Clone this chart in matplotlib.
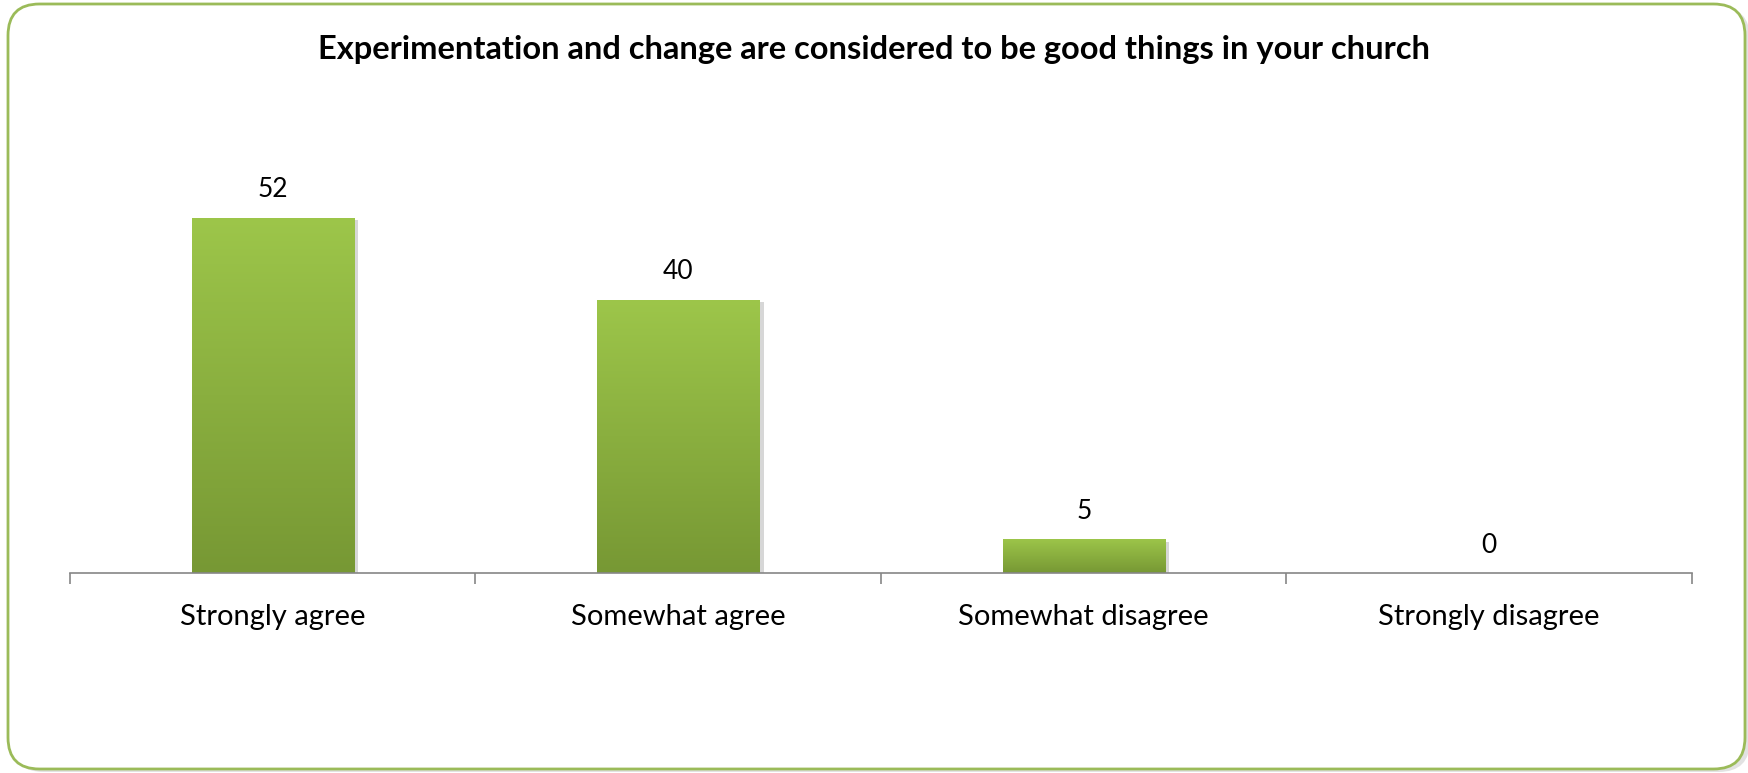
import numpy as np
import matplotlib
matplotlib.use("Agg")
from matplotlib import pyplot as plt
from matplotlib.patches import FancyBboxPatch
import matplotlib.patheffects as pe

categories = ["Strongly agree", "Somewhat agree", "Somewhat disagree", "Strongly disagree"]
values = [52, 40, 5, 0]
title = "Experimentation and change are considered to be good things in your church"

plt.rcParams['font.family'] = ['Lato', 'DejaVu Sans']

fig = plt.figure(figsize=(17.49, 7.73), dpi=100)
W, H = 1749, 773

# rounded green frame with a light shadow
shadow = FancyBboxPatch((12 / W, 1 / H), 1738 / W, 765 / H,
                        boxstyle="round,pad=0,rounding_size=0.018",
                        transform=fig.transFigure, facecolor='#d0d0d0', edgecolor='none',
                        mutation_aspect=W / H, alpha=0.6, zorder=-3)
fig.patches.append(shadow)
frame = FancyBboxPatch((8 / W, 4 / H), 1737 / W, 765 / H,
                       boxstyle="round,pad=0,rounding_size=0.018",
                       transform=fig.transFigure, facecolor='white', edgecolor='#9bbb59',
                       linewidth=2, mutation_aspect=W / H, zorder=-2)
fig.patches.append(frame)

ax = fig.add_axes([70 / W, 200 / H, (1692 - 70) / W, 410 / H])
ax.patch.set_alpha(0)
ax.set_zorder(2)

x = np.arange(len(categories))
bars = ax.bar(x, values, width=0.4, color='#8aae40', zorder=2,
              path_effects=[pe.SimplePatchShadow(offset=(3, -2), shadow_rgbFace='#b0b0b0', alpha=0.5),
                            pe.Normal()])

# vertical gradient on each bar
grad = np.linspace(0, 1, 256).reshape(-1, 1)
cmap = matplotlib.colors.LinearSegmentedColormap.from_list('g', ['#779834', '#9dc64a'])
for b in bars:
    if b.get_height() <= 0:
        continue
    im = ax.imshow(grad, cmap=cmap, aspect='auto', origin='lower',
                   extent=(b.get_x(), b.get_x() + b.get_width(), 0, b.get_height()),
                   zorder=3)
    im.set_clip_path(b)

ax.bar_label(bars, labels=[str(v) for v in values], padding=11, fontsize=19, color='black')

ax.set_xlim(-0.5, len(categories) - 0.5)
ax.set_ylim(0, 60)

for s in ['top', 'right', 'left']:
    ax.spines[s].set_visible(False)
ax.spines['bottom'].set_color('#868686')
ax.spines['bottom'].set_linewidth(1.2)
ax.spines['bottom'].set_zorder(4)
ax.set_yticks([])

ax.set_xticks(x)
ax.set_xticklabels(categories, fontsize=21)
ax.tick_params(axis='x', which='major', length=0, pad=22)
ax.set_xticks(np.arange(-0.5, len(categories)), minor=True)
ax.tick_params(axis='x', which='minor', length=8, color='#868686', width=1.2)

fig.text(0.5, 1 - 50 / H, title, ha='center', va='center', fontsize=23.5, fontweight='bold')

fig.savefig('out.png', dpi=100)
